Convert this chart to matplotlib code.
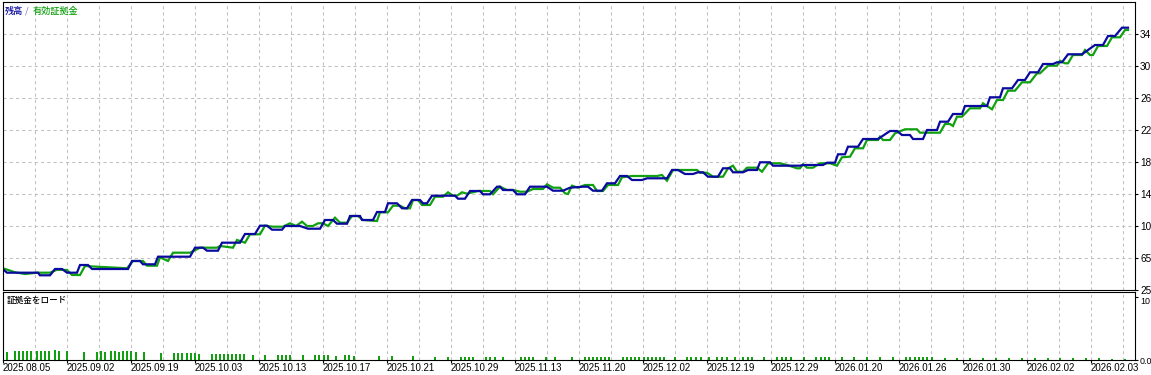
import matplotlib
matplotlib.use("Agg")
import matplotlib.pyplot as plt
import numpy as np

# ---------------------------------------------------------
# data
# ---------------------------------------------------------

bal_deal = [0, 4, 35, 37, 47, 52, 59, 64, 74, 77, 85, 89, 125, 129, 137, 140, 152, 155, 187, 192,
            200, 204, 215, 219, 237, 242, 252, 257, 264, 269, 279, 282, 297, 305, 317, 322, 330, 334, 344, 347,
            357, 359, 370, 374, 382, 385, 394, 399, 404, 409, 417, 420, 424, 429, 452, 455, 462, 467, 477, 480,
            487, 494, 497, 500, 510, 514, 522, 527, 544, 550, 560, 567, 580, 585, 590, 599, 604, 612, 617, 624,
            629, 639, 644, 664, 669, 675, 682, 690, 695, 700, 705, 715, 720, 727, 730, 740, 745, 754, 757, 767,
            770, 797, 800, 820, 824, 832, 835, 842, 845, 855, 860, 875, 887, 894, 899, 907, 910, 920, 924, 934,
            937, 945, 950, 959, 962, 984, 987, 997, 1000, 1009, 1015, 1022, 1027, 1035, 1040, 1050, 1054, 1059,
            1065, 1079, 1092, 1100, 1105, 1112, 1119, 1125]
balance = [5119, 4694, 4694, 4369, 4369, 5156, 5156, 4694, 4694, 5656, 5656, 5156, 5156, 6156, 6156, 5744, 5744, 6694, 6694, 7819,
           7819, 7444, 7444, 8444, 8444, 9531, 9531, 10569, 10569, 10069, 10069, 10531, 10531, 10194, 10194, 11281, 11281, 10819, 10819, 11781,
           11781, 11281, 11281, 12281, 12281, 13369, 13369, 12744, 12744, 13781, 13781, 13369, 13369, 14319, 14319, 13944, 13944, 14906, 14906, 14494,
           14494, 15444, 15444, 15031, 15031, 14494, 14494, 15444, 15444, 14944, 14944, 15319, 15444, 15444, 14944, 14944, 15869, 15869, 16781, 16781,
           16281, 16281, 16494, 16494, 17531, 17531, 17031, 17031, 17244, 17244, 16694, 16694, 17744, 17744, 17244, 17244, 17531, 17531, 18494, 18494,
           18069, 18069, 18156, 18156, 18444, 18444, 19494, 19494, 20444, 20444, 21406, 21406, 22406, 22406, 21906, 21906, 21406, 21406, 22531, 22531,
           23569, 23569, 24531, 24531, 25531, 25531, 26619, 26619, 27744, 27744, 28781, 28781, 29744, 29744, 30781, 30781, 30994, 30994,
           31994, 31994, 33156, 33156, 34281, 34281, 35319, 35319]

eq_deal = [0, 5, 12, 22, 34, 47, 54, 64, 69, 77, 82, 94, 124, 130, 140, 144, 154, 157, 165, 170,
           187, 197, 214, 217, 230, 234, 242, 247, 257, 262, 270, 280, 287, 293, 299, 304, 310, 315, 320, 325,
           332, 337, 344, 349, 355, 360, 374, 377, 385, 390, 397, 402, 407, 410, 415, 419, 427, 432, 440, 445,
           450, 454, 459, 464, 475, 487, 490, 497, 504, 510, 517, 524, 530, 540, 544, 550, 557, 562, 565, 569,
           575, 582, 590, 594, 600, 605, 615, 619, 629, 654, 659, 664, 670, 694, 697, 704, 710, 720, 725, 730,
           734, 740, 744, 754, 759, 765, 777, 784, 794, 797, 800, 804, 810, 817, 827, 834, 839, 847, 852, 860,
           864, 875, 877, 880, 887, 892, 902, 914, 917, 937, 942, 947, 950, 954, 959, 967, 977, 980, 984, 989,
           994, 1000, 1005, 1012, 1019, 1027, 1034, 1037, 1045, 1054, 1057, 1062, 1065, 1070, 1079, 1082, 1087, 1090,
           1095, 1104, 1109, 1117, 1122, 1125]
equity = [5244, 5031, 4744, 4531, 4694, 4694, 5069, 5031, 4406, 4406, 5531, 5444, 5244, 6156, 6156, 5569, 5569, 6619, 6156, 7194,
          7194, 7819, 7819, 8031, 7819, 8781, 8444, 9494, 9494, 10569, 10444, 10444, 10869, 10531, 11069, 10531, 10531, 10869, 10869, 10531,
          11569, 10944, 10944, 11781, 11781, 11281, 11156, 12244, 12244, 13069, 13069, 12744, 12744, 13781, 13781, 13156, 13156, 14194, 14194, 14744,
          14319, 14319, 14744, 14569, 14906, 14906, 14494, 15444, 15031, 15031, 14819, 14819, 15156, 15156, 15744, 15319, 15319, 14619, 14531, 15569,
          15319, 15656, 15656, 14906, 14906, 15656, 15656, 16619, 16781, 16781, 16906, 16194, 17531, 17531, 17194, 17194, 16694, 16694, 17744, 18069,
          17319, 17319, 17819, 17819, 17319, 18369, 18369, 18156, 17744, 17744, 18244, 17819, 17819, 18369, 18369, 18069, 19119, 19194, 20244, 20244,
          21281, 21281, 21694, 21281, 21281, 22119, 22619, 22619, 22194, 22194, 23281, 23281, 23031, 24194, 24194, 25244, 25244, 25869, 25531, 25119,
          26281, 26281, 27444, 27444, 28494, 28494, 29619, 29619, 30569, 30569, 31194, 30869, 30869, 31906, 31906, 32531, 31906, 31906,
          33031, 33031, 34119, 34119, 35031, 35031]

load_deal = [4, 12, 16, 20, 24, 28, 34, 38, 42, 46, 52, 56, 64, 81, 94, 98, 102, 108, 112, 116,
             120, 124, 128, 133, 141, 158, 171, 175, 179, 184, 188, 192, 196, 209, 213, 217, 221, 225, 229, 233,
             237, 241, 250, 262, 275, 279, 283, 287,
             300, 312, 316, 321, 325, 333, 342, 346, 351, 376, 389, 410, 432, 445, 458, 462, 466, 470, 483, 487,
             492, 500, 518, 522, 526, 530, 543, 552, 569, 582, 586, 590, 594, 598, 602, 606, 620, 624, 628, 632,
             636, 641, 645, 649, 653, 657, 661, 672, 684, 688, 693,
             698, 706, 714, 719, 724, 732, 740, 745, 749, 761, 774, 779, 783, 788, 801, 813, 818, 822, 826, 839,
             851, 864, 877, 890, 903, 907, 912, 916, 920, 924, 929, 942, 954, 967, 980, 993, 1006, 1019, 1032, 1045,
             1057, 1070, 1083, 1096, 1109, 1122]
load_pct = ([12.7] + [14.3] * 9 + [15.9, 14.8, 14.3, 12.7, 12.7, 14.3, 12.7]
            + [14.3, 14.3, 13.2, 14.3, 14.3, 14.3, 12.7, 12.7, 11.1] + [11.1] * 6 + [9.5] * 10
            + [7.9] * 6
            + [7.9, 7.9, 7.9, 7.9, 7.9, 6.3, 7.9, 7.9, 6.3, 6.3, 6.3, 6.3] + [5.3] * 39
            + [5.3] * 31 + [3.2] * 13 + [1.6, 1.6])

date_labels = ["2025.08.05", "2025.09.02", "2025.09.19", "2025.10.03", "2025.10.13", "2025.10.17",
               "2025.10.21", "2025.10.29", "2025.11.13", "2025.11.20", "2025.12.02", "2025.12.19",
               "2025.12.29", "2026.01.20", "2026.01.26", "2026.01.30", "2026.02.02", "2026.02.03"]

# right-hand labels are clipped by the window edge in the report, keep what is visible
bal_ticks = [2531, 6531, 10531, 14531, 18531, 22531, 26531, 30531, 34531]
bal_tick_text = ["25", "65", "10", "14", "18", "22", "26", "30", "34"]
load_ticks = [0, 100]
load_tick_text = ["0.0", "10"]

# ---------------------------------------------------------
# figure
# ---------------------------------------------------------

W, H = 1151, 375
fig = plt.figure(figsize=(W / 100, H / 100), dpi=100)
fig.patch.set_facecolor("white")

BLUE = "#0a0a9e"
GREEN = "#10a010"
GRID = "#c0c0c0"
TICK_FONT = "Liberation Sans"
JP_FONT = ["Noto Sans CJK JP", "DejaVu Sans"]


def px_rect(x0, y0, x1, y1):
    return [x0 / W, 1 - y1 / H, (x1 - x0) / W, (y1 - y0) / H]


ax = fig.add_axes(px_rect(3, 1.5, 1135, 290))
ax2 = fig.add_axes(px_rect(3, 292, 1135, 360), sharex=ax)

x_major = np.arange(0, 1132, 64)
x_minor = np.arange(32, 1132, 32)

for a in (ax, ax2):
    for s in a.spines.values():
        s.set_linewidth(0.8)
        s.set_color("black")
    a.yaxis.tick_right()
    a.set_xticks(x_major)
    a.set_xticks(x_minor, minor=True)
    a.grid(True, axis="x", which="both", color=GRID, lw=0.75, ls=(0, (3, 3)))
    a.tick_params(axis="y", direction="out", length=2.5, width=0.8, pad=1.2,
                  labelsize=7.2, labelfontfamily=TICK_FONT)
    a.tick_params(axis="x", which="minor", length=0)
    a.set_axisbelow(True)

# main: balance / equity
ax.plot(eq_deal, equity, color=GREEN, lw=1.6, solid_joinstyle="miter")
ax.plot(bal_deal, balance, color=BLUE, lw=1.6, solid_joinstyle="miter")
ax.set_xlim(0, 1132)
ax.set_ylim(2531, 2531 + 288.5 * 125)
ax.set_yticks(bal_ticks)
ax.set_yticklabels(bal_tick_text)
ax.grid(True, axis="y", color=GRID, lw=0.75, ls=(0, (3, 3)))
ax.tick_params(axis="x", which="major", length=0, labelbottom=False)

# sub: margin load
ax2.bar(load_deal, load_pct, width=2.8, color=GREEN, align="center", antialiased=False)
ax2.set_ylim(0, 108)
ax2.set_yticks(load_ticks)
ax2.set_yticklabels(load_tick_text)
ax2.tick_params(axis="y", labelsize=6.4, pad=1.0)
ax2.tick_params(axis="x", which="major", direction="out", length=2, width=0.8, pad=0.5,
                labelsize=7, labelfontfamily=TICK_FONT)
ax2.set_xticklabels(date_labels)
for lab in ax2.get_xticklabels():
    lab.set_ha("left")
ax2.get_yticklabels()[1].set_va("top")

# titles
fig.text(5 / W, 1 - 11 / H, "残高", color=BLUE, fontsize=6.6, family=JP_FONT,
         weight="medium", va="center", ha="left")
fig.text(25 / W, 1 - 11 / H, "/", color="#6a6ab0", fontsize=6.6, family=JP_FONT,
         va="center", ha="left")
fig.text(33 / W, 1 - 11 / H, "有効証拠金", color=GREEN, fontsize=6.6, family=JP_FONT,
         weight="medium", va="center", ha="left")
fig.text(7 / W, 1 - 300 / H, "証拠金をロード", color="black", fontsize=6.2, family=JP_FONT,
         weight="medium", va="center", ha="left")

fig.savefig("out.png", dpi=100)
